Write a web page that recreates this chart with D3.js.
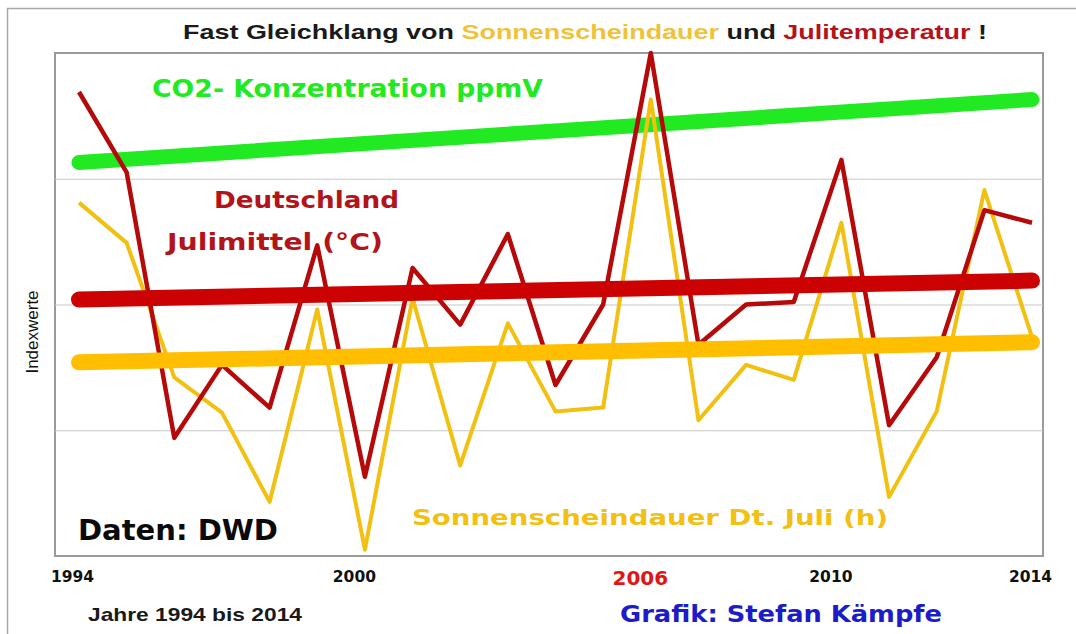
<!DOCTYPE html>
<html>
<head>
<meta charset="utf-8">
<script src="https://cdn.jsdelivr.net/npm/d3@7.9.0/dist/d3.min.js"></script>
<style>
  html, body { margin: 0; padding: 0; background: #fff; }
  svg { display: block; }
</style>
</head>
<body>
<svg id="chart" width="1076" height="634"></svg>
<script>
// ============= DATA ==================
const years = [1994, 1995, 1996, 1997, 1998, 1999, 2000, 2001, 2002, 2003, 2004,
  2005, 2006, 2007, 2008, 2009, 2010, 2011, 2012, 2013, 2014];

// Julimittel Deutschland, als Indexwert (0..4)
const tempIndex = [3.69, 3.05, 0.94, 1.52, 1.18, 2.47, 0.63, 2.29, 1.84, 2.56, 1.36,
  2.00, 4.00, 1.68, 2.00, 2.02, 3.15, 1.04, 1.58, 2.75, 2.65];

// Sonnenscheindauer Juli, als Indexwert (0..4)
const sunIndex = [2.81, 2.49, 1.42, 1.14, 0.43, 1.96, 0.05, 2.05, 0.72, 1.85, 1.15,
  1.18, 3.63, 1.08, 1.52, 1.40, 2.65, 0.47, 1.15, 2.91, 1.74];

// trend lines: [value 1994, value 2014]
const trendYears = [1994, 2014];
const co2Trend = [3.13, 3.63];
const tempTrend = [2.04, 2.19];
const sunTrend = [1.54, 1.70];

const tickYears = [1994, 2000, 2006, 2010, 2014];
const gridValues = [1, 2, 3];

// ============= SETUP ==================
const svg = d3.select("#chart");
const plot = { left: 55, top: 53, right: 1043, bottom: 556 };

const x = d3.scaleLinear().domain([1994, 2014]).range([79, 1032]);
const y = d3.scaleLinear().domain([0, 4]).range([plot.bottom, plot.top]);

const RED = "#b60a0a", YEL = "#f2c011", GREEN = "#22ea22";

// outer frame
svg.append("rect")
  .attr("x", 7.5).attr("y", 8.5)
  .attr("width", 1090).attr("height", 650)
  .attr("fill", "#fff").attr("stroke", "#a8a8a8").attr("stroke-width", 1.5);

// plot frame
svg.append("rect")
  .attr("x", plot.left).attr("y", plot.top)
  .attr("width", plot.right - plot.left).attr("height", plot.bottom - plot.top)
  .attr("fill", "#fff").attr("stroke", "#9a9a9a").attr("stroke-width", 2);

// grid lines
svg.append("g")
  .attr("transform", `translate(${plot.left},0)`)
  .call(d3.axisLeft(y).tickValues(gridValues).tickSize(-(plot.right - plot.left)).tickFormat(""))
  .call(g => g.select(".domain").remove())
  .call(g => g.selectAll("line").attr("stroke", "#c8c8c8").attr("stroke-width", 1.2));

// x tick labels
svg.append("g")
  .attr("transform", `translate(0,${plot.bottom})`)
  .call(d3.axisBottom(x).tickValues(tickYears).tickSize(0).tickFormat(d3.format("d")))
  .call(g => g.select(".domain").remove())
  .call(g => g.selectAll("text")
    .attr("dx", d => d === 2014 ? -2 : d === 1994 ? -7 : -11)
    .attr("dy", d => d === 2006 ? 26 : 23)
    .attr("font-family", "'DejaVu Sans', sans-serif")
    .attr("font-weight", "bold")
    .attr("font-size", d => d === 2006 ? 20 : 15.5)
    .attr("fill", d => d === 2006 ? "#e01616" : "#111"));

// ============= LINES ==================
const line = d3.line().x((d, i) => x(years[i])).y(d => y(d));
const trend = d3.line().x((d, i) => x(trendYears[i])).y(d => y(d));

svg.append("path").datum(co2Trend)
  .attr("d", trend).attr("fill", "none")
  .attr("stroke", GREEN).attr("stroke-width", 15).attr("stroke-linecap", "round");

svg.append("path").datum(sunIndex)
  .attr("d", line).attr("fill", "none")
  .attr("stroke", YEL).attr("stroke-width", 4).attr("stroke-linejoin", "round");

svg.append("path").datum(tempIndex)
  .attr("d", line).attr("fill", "none")
  .attr("stroke", RED).attr("stroke-width", 4.5).attr("stroke-linejoin", "round");

svg.append("path").datum(tempTrend)
  .attr("d", trend).attr("fill", "none")
  .attr("stroke", "#cc0202").attr("stroke-width", 16).attr("stroke-linecap", "round");

svg.append("path").datum(sunTrend)
  .attr("d", trend).attr("fill", "none")
  .attr("stroke", "#ffbf00").attr("stroke-width", 16).attr("stroke-linecap", "round");

// ============= TEXTS ==================
const heavy = "'DejaVu Sans', sans-serif";
const plain = "'Liberation Sans', Arial, sans-serif";

function label(txt, xx, yy, size, color, len, family = heavy) {
  return svg.append("text")
    .attr("x", xx).attr("y", yy)
    .attr("font-family", family).attr("font-weight", "bold")
    .attr("font-size", size).attr("fill", color)
    .attr("textLength", len).attr("lengthAdjust", "spacingAndGlyphs")
    .text(txt);
}

// title
const title = svg.append("text")
  .attr("x", 183).attr("y", 39)
  .attr("font-family", plain).attr("font-weight", "bold").attr("font-size", 21)
  .attr("textLength", 804).attr("lengthAdjust", "spacingAndGlyphs");
title.append("tspan").attr("fill", "#1a1a1a").text("Fast Gleichklang von ");
title.append("tspan").attr("fill", "#efc23a").text("Sonnenscheindauer");
title.append("tspan").attr("fill", "#1a1a1a").text(" und ");
title.append("tspan").attr("fill", "#b5121b").text("Julitemperatur");
title.append("tspan").attr("fill", "#1a1a1a").text(" !");

label("CO2- Konzentration ppmV", 152, 97, 25, GREEN, 391);
label("Deutschland", 214, 208, 23, "#b3141a", 185);
label("Julimittel (°C)", 167, 250, 23, "#b3141a", 216);
label("Sonnenscheindauer Dt. Juli (h)", 412, 525, 22, YEL, 476);
label("Daten: DWD", 78, 540, 29, "#0a0a0a", 200);
label("Grafik: Stefan Kämpfe", 620, 622, 23, "#1c1cc8", 322);
label("Jahre 1994 bis 2014", 88, 621, 19, "#1a1a1a", 214, plain);

svg.append("text")
  .attr("transform", "translate(38,332) rotate(-90)")
  .attr("text-anchor", "middle")
  .attr("font-family", plain).attr("font-size", 17).attr("fill", "#111")
  .text("Indexwerte");
</script>
</body>
</html>
